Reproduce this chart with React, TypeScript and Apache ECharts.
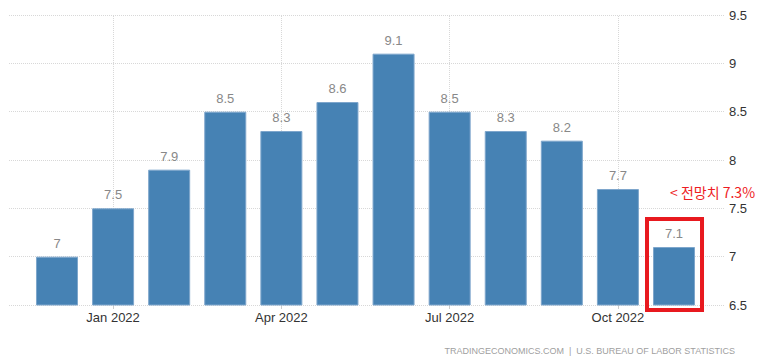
import React, { useEffect, useRef } from "react";
import * as echarts from "echarts";

const categories = ["Dec 2021", "Jan 2022", "Feb 2022", "Mar 2022", "Apr 2022", "May 2022", "Jun 2022", "Jul 2022", "Aug 2022", "Sep 2022", "Oct 2022", "Nov 2022"];
const values = [7, 7.5, 7.9, 8.5, 8.3, 8.6, 9.1, 8.5, 8.3, 8.2, 7.7, 7.1];
const tickIndexes = [1, 4, 7, 10];
const yTicks = [6.5, 7, 7.5, 8, 8.5, 9, 9.5];
const annotationText = "< 전망치 7.3%";
const sourceText = "TRADINGECONOMICS.COM  |  U.S. BUREAU OF LABOR STATISTICS";

const FONT = "'Liberation Sans', Arial, sans-serif";

export default function App() {
  const ref = useRef<HTMLDivElement>(null);
  useEffect(() => {
    if (!ref.current) return;
    const chart = echarts.init(ref.current, undefined, { renderer: "svg" });
    const option: any = {
      animation: false,
      grid: { left: 5, right: 39, top: 15, bottom: 59, containLabel: false },
      xAxis: {
        type: "value",
        min: -0.927,
        max: 11.909,
        axisLine: { show: false },
        splitLine: { show: false },
        axisTick: {
          show: true,
          customValues: tickIndexes,
          length: 4,
          lineStyle: { color: "#cccccc" },
        },
        axisLabel: {
          customValues: tickIndexes,
          formatter: (v: number) => categories[Math.round(v)] ?? "",
          color: "#333333",
          fontSize: 13,
          fontFamily: FONT,
          margin: 6,
        },
      },
      yAxis: {
        type: "value",
        position: "right",
        min: yTicks[0],
        max: yTicks[yTicks.length - 1],
        interval: 0.5,
        axisLine: { show: false },
        axisTick: { show: false },
        axisLabel: {
          color: "#333333",
          fontSize: 13,
          fontFamily: FONT,
          margin: 4,
          formatter: (v: number) => String(v),
        },
        splitLine: { show: true, lineStyle: { color: "#d8d8d8", type: "dotted", width: 1 } },
      },
      series: [
        {
          type: "bar",
          z: 2,
          barWidth: 42,
          data: values.map((v, i) => [i, v]),
          itemStyle: { color: "#4682B4", borderColor: "#7ea6cc", borderWidth: 1 },
          label: {
            show: true,
            position: "top",
            distance: 7,
            color: "#888888",
            fontSize: 13,
            fontFamily: FONT,
            formatter: (p: any) => String(p.value[1]),
          },
          markLine: {
            z: 1,
            silent: true,
            symbol: "none",
            label: { show: false },
            lineStyle: { color: "#d8d8d8", type: "dotted", width: 1 },
            data: tickIndexes.map((i) => ({ xAxis: i })),
          },
        },
      ],
    };
    chart.setOption(option);

    const last = values.length - 1;
    const top = chart.convertToPixel({ gridIndex: 0 }, [last, values[last]]) as number[];
    const base = chart.convertToPixel({ gridIndex: 0 }, [last, yTicks[0]]) as number[];
    const cx = top[0];
    chart.setOption({
      graphic: [
        {
          type: "rect",
          shape: { x: cx - 27, y: top[1] - 28, width: 55, height: base[1] - top[1] + 33 },
          style: { fill: "none", stroke: "#e8191f", lineWidth: 4 },
          z: 10,
        },
        {
          type: "text",
          x: cx - 4,
          y: top[1] - 55,
          style: {
            text: annotationText,
            fill: "#ee1c24",
            fontSize: 14,
            fontFamily: "'Noto Sans CJK KR', 'Noto Sans', sans-serif",
            verticalAlign: "middle",
            align: "left",
          },
          z: 10,
        },
        {
          type: "text",
          right: 29,
          top: 346,
          style: {
            text: sourceText,
            fill: "#a0a0a0",
            fontSize: 9,
            fontFamily: FONT,
          },
        },
      ],
    });
    return () => chart.dispose();
  }, []);
  return <div ref={ref} style={{ width: 764, height: 364, margin: -8 }} />;
}
